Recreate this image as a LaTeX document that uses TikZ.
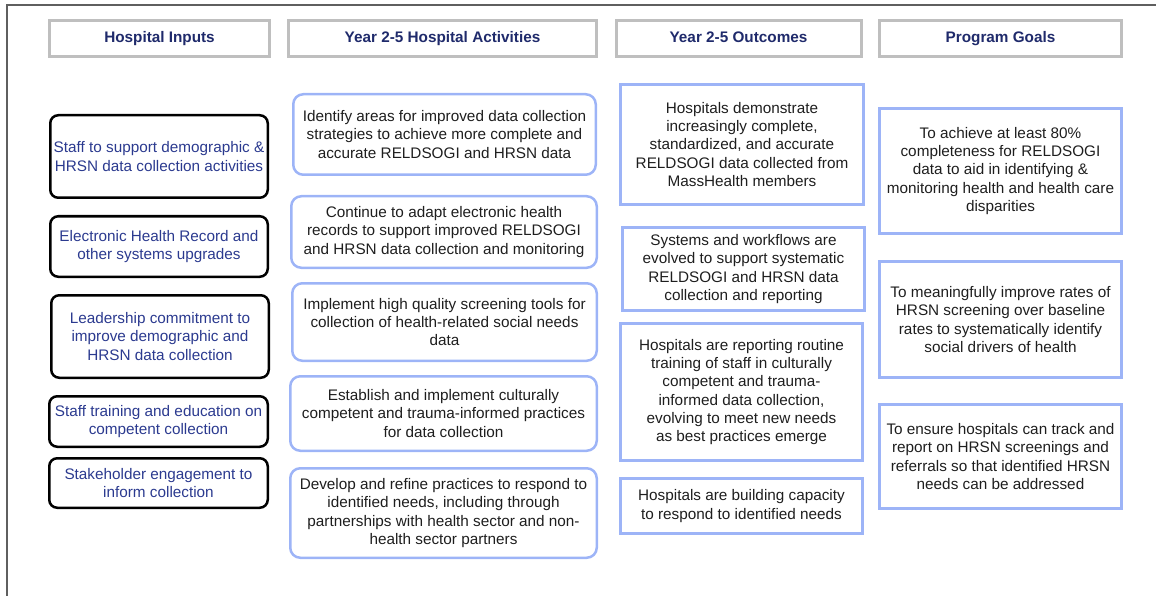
\documentclass[tikz,border=0pt]{standalone}
\usepackage{fontspec}
\setmainfont{Liberation Sans}
\usepackage{tikz}
\usepackage{xcolor}

\definecolor{framegray}{HTML}{5F5F5F}
\definecolor{headgray}{HTML}{BFBFBF}
\definecolor{headnavy}{HTML}{1F2A6B}
\definecolor{inputblue}{HTML}{2B3A8F}
\definecolor{lineblue}{HTML}{9DB4F7}
\definecolor{bodytext}{HTML}{1E1E1E}

\tikzset{
    dims/.style 2 args={minimum width=#1pt, minimum height=#2pt},
    colhead/.style={draw=headgray, line width=3pt, inner sep=1pt, align=center,
        text height=11pt, text depth=3pt,
        text=headnavy, font=\fontsize{15.3}{18.3}\selectfont\bfseries},
    inbox/.style={draw=black, line width=2.5pt, rounded corners=8pt, inner sep=1pt,
        align=center, text=inputblue, font=\fontsize{15.3}{18.3}\selectfont},
    actbox/.style={draw=lineblue, line width=2.5pt, rounded corners=10pt, inner sep=1pt,
        align=center, text=bodytext, font=\fontsize{15.3}{18.3}\selectfont},
    resbox/.style={draw=lineblue, line width=3pt, inner sep=1pt,
        align=center, text=bodytext, font=\fontsize{15.3}{18.3}\selectfont}
}

\begin{document}
\begin{tikzpicture}[x=1pt,y=-1pt]
    \useasboundingbox (0,0) rectangle (1156,596);

    % Frame
    \draw[framegray, line width=1.5pt] (7,596) |- (1156,5);

    % Column headers
    \node[colhead, dims={220}{36}] (hinput) at (159.5,38.5) {Hospital Inputs};
    \node[colhead, dims={308}{36}] (hact) at (442.5,38.5) {Year 2-5 Hospital Activities};
    \node[colhead, dims={245}{36}] (hout) at (738.5,38.5) {Year 2-5 Outcomes};
    \node[colhead, dims={242}{36}] (hgoal) at (1000.5,38.5) {Program Goals};

    % Hospital inputs
    \node[inbox, dims={217.5}{82.5}] (in1) at (159,156.5)
        {Staff to support demographic \&\\HRSN data collection activities};
    \node[inbox, dims={217.5}{60.5}] (in2) at (159,246.5)
        {Electronic Health Record and\\other systems upgrades};
    \node[inbox, dims={217.5}{82.5}] (in3) at (160,336.5)
        {Leadership commitment to\\improve demographic and\\HRSN data collection};
    \node[inbox, dims={218.5}{50.5}] (in4) at (158.5,421.5)
        {Staff training and education on\\competent collection};
    \node[inbox, dims={218.5}{49.5}] (in5) at (158.5,483)
        {Stakeholder engagement to\\inform collection};

    % Activities
    \node[actbox, dims={302.5}{80.5}] (act1) at (444.5,134.5)
        {Identify areas for improved data collection\\strategies to achieve more complete and\\accurate RELDSOGI and HRSN data};
    \node[actbox, dims={305.5}{71.5}] (act2) at (444,232)
        {Continue to adapt electronic health\\records to support improved RELDSOGI\\and HRSN data collection and monitoring};
    \node[actbox, dims={304.5}{77.5}] (act3) at (444.5,322)
        {Implement high quality screening tools for\\collection of health-related social needs\\data};
    \node[actbox, dims={306.5}{74.5}] (act4) at (443.5,413.5)
        {Establish and implement culturally\\competent and trauma-informed practices\\for data collection};
    \node[actbox, dims={306.5}{89.5}] (act5) at (443.5,513)
        {Develop and refine practices to respond to\\identified needs, including through\\partnerships with health sector and non-\\health sector partners};

    % Outcomes
    \node[resbox, dims={243}{120}] (out1) at (742,144.5)
        {Hospitals demonstrate\\increasingly complete,\\standardized, and accurate\\RELDSOGI data collected from\\MassHealth members};
    \node[resbox, dims={242}{83}] (out2) at (743.5,269)
        {Systems and workflows are\\evolved to support systematic\\RELDSOGI and HRSN data\\collection and reporting};
    \node[resbox, dims={242}{137}] (out3) at (741.5,392)
        {Hospitals are reporting routine\\training of staff in culturally\\competent and trauma-\\informed data collection,\\evolving to meet new needs\\as best practices emerge};
    \node[resbox, dims={242}{55}] (out4) at (741.5,506)
        {Hospitals are building capacity\\to respond to identified needs};

    % Program goals
    \node[resbox, dims={242}{125}] (goal1) at (1000.5,171)
        {To achieve at least 80\%\\completeness for RELDSOGI\\data to aid in identifying \&\\monitoring health and health care\\disparities};
    \node[resbox, dims={242}{116}] (goal2) at (1000.5,319.5)
        {To meaningfully improve rates of\\HRSN screening over baseline\\rates to systematically identify\\social drivers of health};
    \node[resbox, dims={242}{104}] (goal3) at (1000.5,456.5)
        {To ensure hospitals can track and\\report on HRSN screenings and\\referrals so that identified HRSN\\needs can be addressed};
\end{tikzpicture}
\end{document}
